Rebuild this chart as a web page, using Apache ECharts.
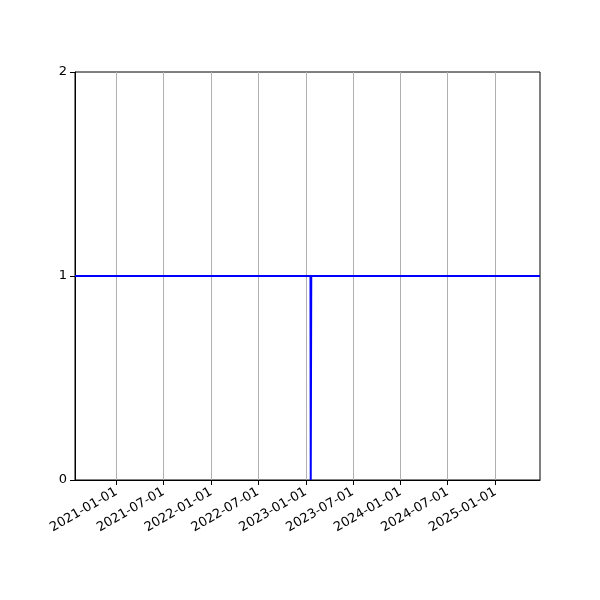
<!DOCTYPE html>
<html>
<head>
<meta charset="utf-8">
<script src="https://cdn.jsdelivr.net/npm/echarts@6/dist/echarts.min.js"></script>
<style>html,body{margin:0;padding:0;background:#fff}#c{width:600px;height:600px}</style>
</head>
<body>
<div id="c"></div>
<script>
const dates = ['2020-07-25', '2023-01-19', '2023-01-20', '2023-01-22', '2025-06-22'];
const values = [1, 1, 0, 1, 1];
const xTickLabels = ['2021-01-01','2021-07-01','2022-01-01','2022-07-01','2023-01-01','2023-07-01','2024-01-01','2024-07-01','2025-01-01'];
const yTicks = [0, 1, 2];
const xMin = '2020-07-25', xMax = '2025-06-22';

const ts = s => new Date(s + 'T00:00:00Z').getTime();
const pad = n => (n < 10 ? '0' : '') + n;
const fmt = v => { const d = new Date(v); return d.getUTCFullYear() + '-' + pad(d.getUTCMonth() + 1) + '-' + pad(d.getUTCDate()); };
const tickVals = xTickLabels.map(ts);

const chart = echarts.init(document.getElementById('c'), null, {renderer: 'canvas'});
chart.setOption({
  animation: false,
  grid: {left: 75, right: 60, top: 72, bottom: 120, show: true, borderColor: '#000', borderWidth: 1, backgroundColor: 'transparent'},
  xAxis: {
    type: 'value',
    min: ts(xMin), max: ts(xMax),
    axisLine: {show: true, lineStyle: {color: '#000', width: 1}},
    axisTick: {show: true, length: 5, customValues: tickVals, lineStyle: {color: '#000', width: 1}},
    axisLabel: {show: true, customValues: tickVals, rotate: 30, formatter: v => fmt(v), color: '#000', fontSize: 13, fontFamily: 'DejaVu Sans', margin: 11},
    splitLine: {show: true, lineStyle: {color: '#b0b0b0', width: 1}}
  },
  yAxis: {
    type: 'value', min: yTicks[0], max: yTicks[yTicks.length - 1], interval: 1,
    axisLine: {show: true, lineStyle: {color: '#000', width: 1}},
    axisTick: {show: true, length: 5, lineStyle: {color: '#000', width: 1}},
    axisLabel: {color: '#000', fontSize: 13, fontFamily: 'DejaVu Sans', margin: 8},
    splitLine: {show: false}
  },
  series: [{
    type: 'line',
    data: dates.map((d, i) => [ts(d), values[i]]),
    showSymbol: false,
    symbol: 'none',
    lineStyle: {color: '#0000ff', width: 2},
    clip: true
  }]
});
</script>
</body>
</html>
